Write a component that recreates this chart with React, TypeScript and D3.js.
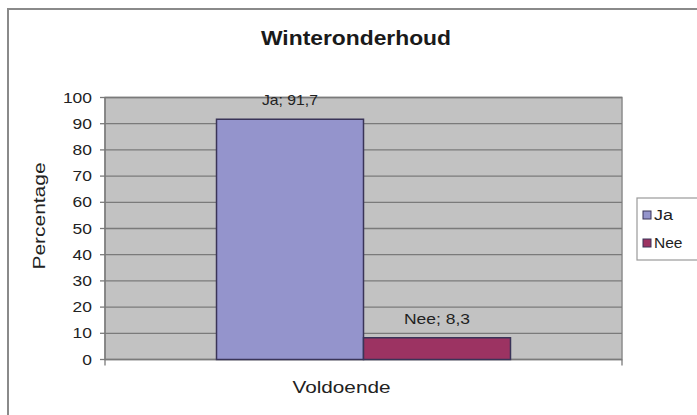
import React from "react";
import * as d3 from "d3";

const categories = ["Voldoende"];
const seriesNames = ["Ja", "Nee"];
const seriesValues = [91.7, 8.3];
const seriesColors = ["#9494cc", "#9c3362"];
const yTicks = [0, 10, 20, 30, 40, 50, 60, 70, 80, 90, 100];
const title = "Winteronderhoud";
const yTitle = "Percentage";

const W = 697;
const H = 415;
const plot = { left: 105, right: 622, top: 97.5, bottom: 359.5 };
const FONT = "'Liberation Sans', Arial, sans-serif";

export default function App() {
  const y = d3.scaleLinear().domain([0, 100]).range([plot.bottom, plot.top]);
  const x0 = d3
    .scaleBand<string>()
    .domain(categories)
    .range([plot.left, plot.right])
    .paddingInner(0.275)
    .paddingOuter(0.275);
  const x1 = d3
    .scaleBand<string>()
    .domain(seriesNames)
    .range([0, x0.bandwidth()]);

  const fmt = (v: number) => String(v).replace(".", ",");

  return (
    <svg
      width={W}
      height={H}
      style={{ position: "absolute", left: 0, top: 0, background: "#fff" }}
    >
      <rect x={0} y={0} width={W} height={H} fill="#fff" />
      {/* chart border */}
      <rect x={8} y={9} width={W + 20} height={H + 20} fill="none" stroke="#8a8a8a" strokeWidth={2} />

      {/* title */}
      <text
        x={356}
        y={45}
        textAnchor="middle"
        fontFamily={FONT}
        fontWeight="bold"
        fontSize={20}
        textLength={190}
        lengthAdjust="spacingAndGlyphs"
        fill="#1a1a1a"
      >
        {title}
      </text>

      {/* plot area */}
      <rect
        x={plot.left}
        y={plot.top}
        width={plot.right - plot.left}
        height={plot.bottom - plot.top}
        fill="#c2c2c2"
        stroke="#8c8c8c"
        strokeWidth={1.5}
      />
      {yTicks.map((t) => (
        <g key={t}>
          {t > 0 && (
            <line
              x1={plot.left}
              x2={plot.right}
              y1={y(t)}
              y2={y(t)}
              stroke="#7a7a7a"
              strokeWidth={1.3}
            />
          )}
          <line x1={plot.left - 5} x2={plot.left} y1={y(t)} y2={y(t)} stroke="#7a7a7a" strokeWidth={1.3} />
          <text
            x={92}
            y={y(t) + 5}
            textAnchor="end"
            fontFamily={FONT}
            fontSize={15}
            textLength={String(t).length * 9.7}
            lengthAdjust="spacingAndGlyphs"
            fill="#222"
          >
            {t}
          </text>
        </g>
      ))}
      {/* axes */}
      <line x1={plot.left} x2={plot.left} y1={plot.top} y2={plot.bottom + 6} stroke="#7a7a7a" strokeWidth={1.3} />
      <line x1={plot.left} x2={plot.right} y1={plot.bottom} y2={plot.bottom} stroke="#7a7a7a" strokeWidth={1.5} />
      <line x1={plot.right} x2={plot.right} y1={plot.bottom} y2={plot.bottom + 6} stroke="#7a7a7a" strokeWidth={1.3} />

      {/* bars */}
      {categories.map((c) => (
        <g key={c} transform={`translate(${x0(c)},0)`}>
          {seriesNames.map((s, i) => (
            <g key={s}>
              <rect
                x={x1(s)}
                y={y(seriesValues[i])}
                width={x1.bandwidth()}
                height={plot.bottom - y(seriesValues[i])}
                fill={seriesColors[i]}
                stroke="#3a3458"
                strokeWidth={1.5}
              />
              <text
                x={(x1(s) as number) + x1.bandwidth() / 2}
                y={y(seriesValues[i]) - 14}
                textAnchor="middle"
                fontFamily={FONT}
                fontSize={15}
                textLength={s.length * 10 + 36}
                lengthAdjust="spacingAndGlyphs"
                fill="#222"
              >
                {`${s}; ${fmt(seriesValues[i])}`}
              </text>
            </g>
          ))}
          <text
            x={x0.bandwidth() / 2 - 22}
            y={393}
            textAnchor="middle"
            fontFamily={FONT}
            fontSize={17}
            textLength={98}
            lengthAdjust="spacingAndGlyphs"
            fill="#222"
          >
            {c}
          </text>
        </g>
      ))}

      {/* y title */}
      <text
        transform={`translate(45,216) rotate(-90)`}
        textAnchor="middle"
        fontFamily={FONT}
        fontSize={17}
        textLength={107}
        lengthAdjust="spacingAndGlyphs"
        fill="#222"
      >
        {yTitle}
      </text>

      {/* legend */}
      <rect x={637} y={198} width={70} height={62} fill="#fff" stroke="#9a9a9a" strokeWidth={1.2} />
      {seriesNames.map((s, i) => (
        <g key={s} transform={`translate(643,${211 + i * 28})`}>
          <rect x={0} y={0} width={8} height={8} fill={seriesColors[i]} stroke="#3a3458" strokeWidth={1} />
          <text
            x={11}
            y={8.5}
            fontFamily={FONT}
            fontSize={14}
            textLength={s.length * 9.5}
            lengthAdjust="spacingAndGlyphs"
            fill="#222"
          >
            {s}
          </text>
        </g>
      ))}
    </svg>
  );
}
